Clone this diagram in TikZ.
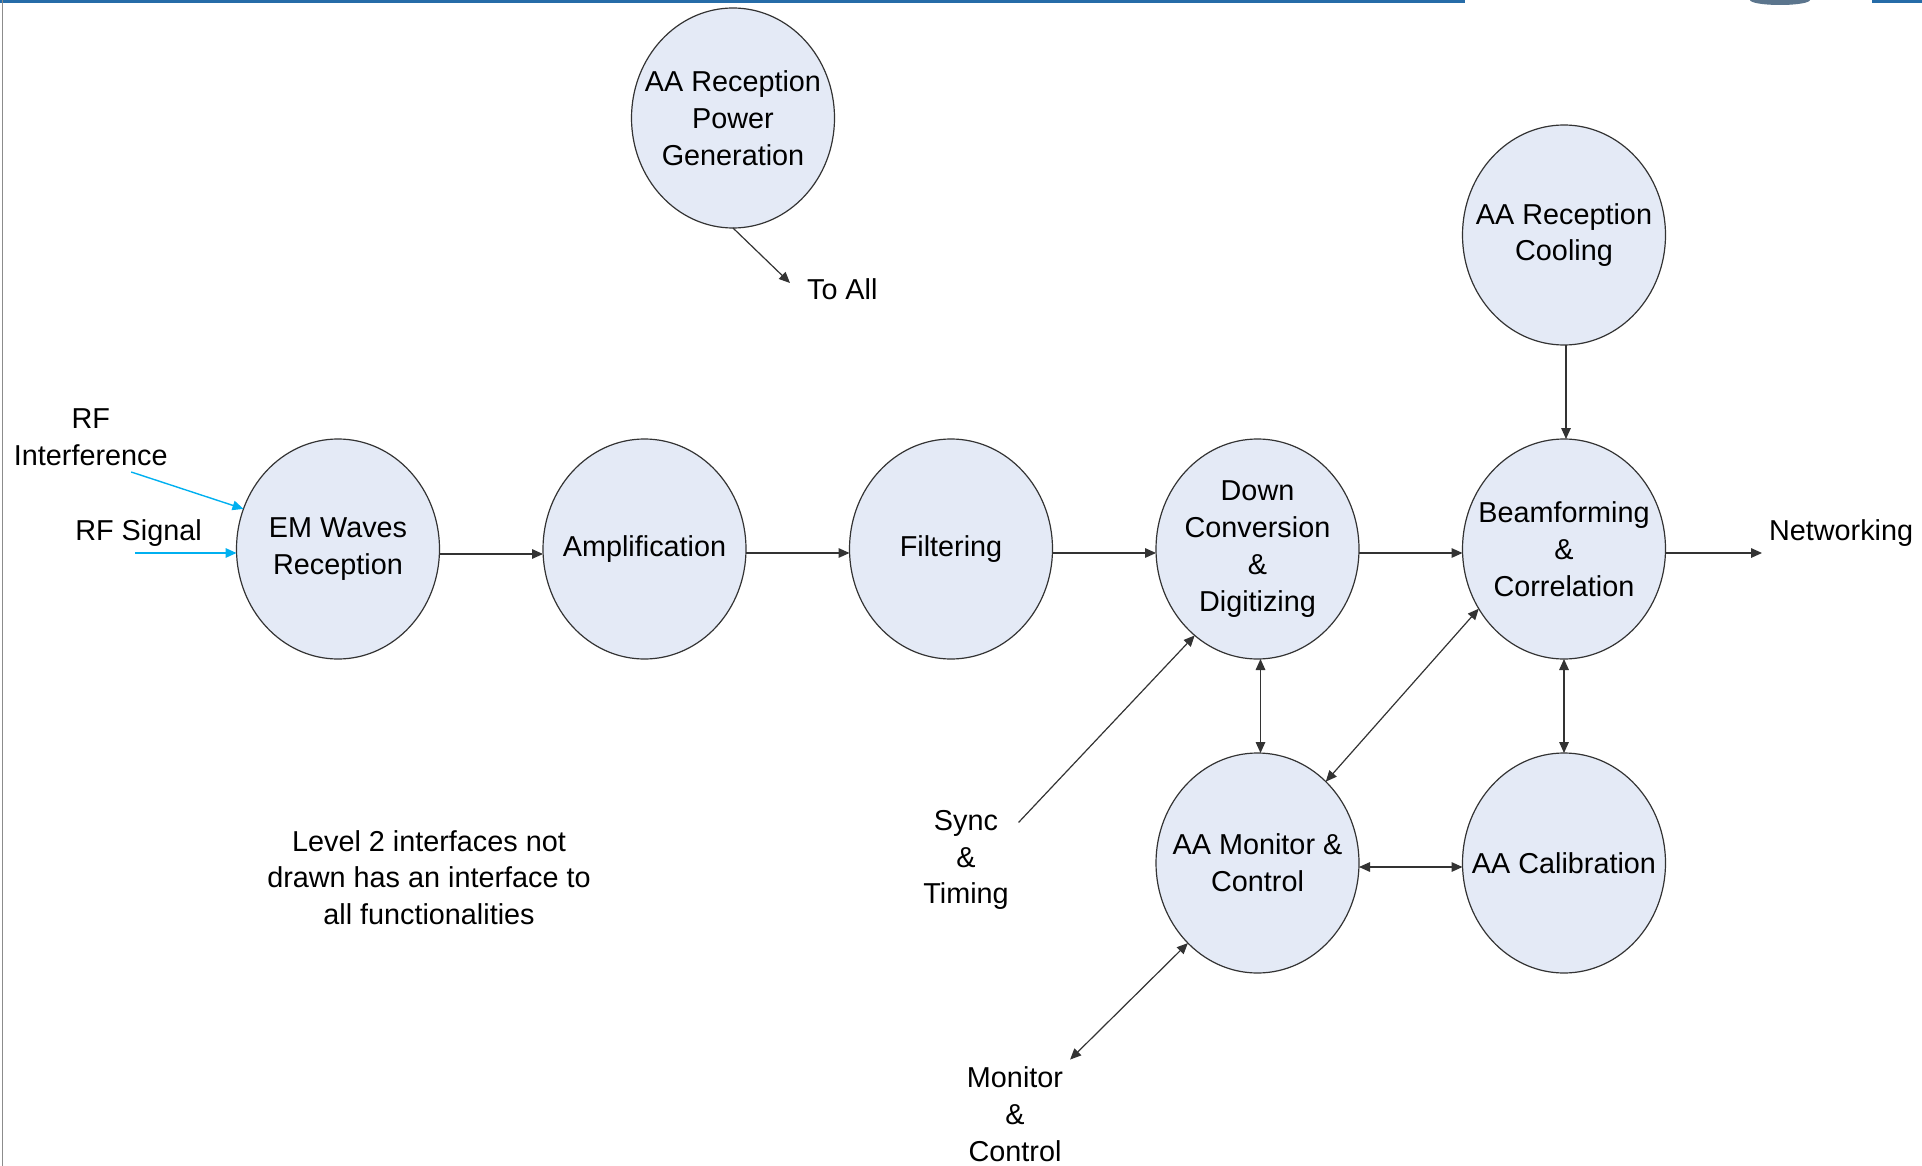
\documentclass[tikz,border=0pt]{standalone}
\usepackage{fontspec}
\setmainfont{Liberation Sans}
\usepackage{xcolor}
\usepackage{tikz}
\usetikzlibrary{shapes.geometric,arrows.meta,positioning,calc}

\definecolor{bubble}{RGB}{228,234,246}
\definecolor{rfcyan}{RGB}{0,176,240}
\definecolor{barblue}{RGB}{38,108,168}

\begin{document}
\begin{tikzpicture}[
  node distance=47pt and 51.75pt,
  every node/.style={font=\fontsize{14.4pt}{18.4pt}\selectfont, align=center},
  func/.style={ellipse, draw=black!80, fill=bubble, line width=0.6pt,
               minimum width=101.5pt, minimum height=110pt, inner sep=-12pt, outer sep=0pt},
  ar/.style={-{Triangle[length=5.5pt,width=4.8pt]}, line width=0.6pt, draw=black!80},
  dar/.style={{Triangle[length=5.5pt,width=4.8pt]}-{Triangle[length=5.5pt,width=4.8pt]}, line width=0.6pt, draw=black!80},
  rf/.style={ar, draw=rfcyan, line width=0.7pt}
]
\useasboundingbox (0,0) rectangle (961pt,-583pt);
% slide frame
\fill[barblue] (0,0) rectangle (732.5pt,-1.6pt);
\fill[barblue] (936pt,0) rectangle (961pt,-1.6pt);
\fill[barblue!55!black, opacity=0.7] (890pt,0) ellipse (15pt and 2.5pt);
\draw[black!45, line width=0.5pt] (1.3pt,0) -- (1.3pt,-583pt);

% functions
\node[func] at (169pt,-274.5pt) (em) {EM Waves\\Reception};
\node[func, right=of em] (amp) {Amplification};
\node[func, right=of amp] (filt) {Filtering};
\node[func, right=of filt] (down) {Down\\Conversion\\\&\\Digitizing};
\node[func, right=of down] (beam) {Beamforming\\\&\\Correlation};
\node[func, above=of beam] (cool) {AA Reception\\Cooling};
\node[func, below=of down] (mon) {AA Monitor \&\\Control};
\node[func, below=of beam] (cal) {AA Calibration};
\node[func] at (366.5pt,-59pt) (pow) {AA Reception\\Power\\Generation};

% external labels
\node at (45.4pt,-218.8pt) (rfi) {RF\\Interference};
\node at (69.3pt,-266.7pt) (rfs) {RF Signal};
\coordinate (rfi-in) at (65.6pt,-236pt);
\coordinate (rfs-in) at (67.5pt,-276.5pt);
\node[anchor=west] at (881pt,-266.7pt) (net) {Networking};
\node[anchor=west] at (400pt,-144.5pt) (toall) {To All};
\node at (483pt,-430pt) (sync) {Sync\\\&\\Timing};
\coordinate (sync-out) at (509.3pt,-411.2pt);
\node at (507.5pt,-557pt) (moncon) {Monitor\\\&\\Control};
\node at (214.5pt,-438.8pt) (note) {Level 2 interfaces not\\drawn has an interface to\\all functionalities};

\draw[rf] (rfi-in) -- (em.157);
\draw[rf] (rfs-in) -- (rfs-in -| em.west);
\draw[ar] ([yshift=-2.5pt]em.east) -- ([yshift=-2.5pt]amp.west);
\draw[ar] ([yshift=-2pt]amp.east) -- ([yshift=-2pt]filt.west);
\draw[ar] ([yshift=-2pt]filt.east) -- ([yshift=-2pt]down.west);
\draw[ar] ([yshift=-2pt]down.east) -- ([yshift=-2pt]beam.west);
\draw[ar] ([yshift=-2pt]beam.east) -- ([yshift=-2pt]beam.east -| net.west);
\draw[ar] ([xshift=1pt]cool.south) -- ([xshift=1pt]beam.north);
\draw[dar] ([xshift=1.5pt]down.south) -- ([xshift=1.5pt]mon.north);
\draw[dar] (beam) -- (cal);
\draw[dar] ([yshift=-2pt]mon.east) -- ([yshift=-2pt]cal.west);
\draw[dar] (beam.215) -- (mon.50);
\draw[ar] (sync-out) -- (down.234);
\draw[dar] (moncon.north east) -- (mon.229);
\draw[ar] (pow.south) -- ([shift={(-5pt,3pt)}]toall.west);
\end{tikzpicture}
\end{document}
